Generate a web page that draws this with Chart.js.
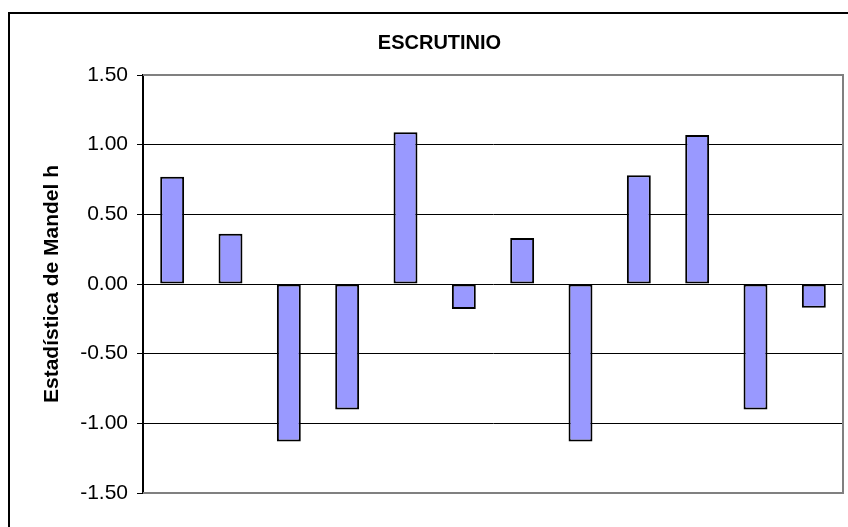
<!DOCTYPE html>
<html>
<head>
<meta charset="utf-8">
<script src="https://cdn.jsdelivr.net/npm/chart.js@4/dist/chart.umd.min.js"></script>
<style>
  html, body { margin: 0; padding: 0; background: #fff; }
  #wrap { width: 848px; height: 527px; }
</style>
</head>
<body>
<div id="wrap"><canvas id="mandelChart" width="848" height="527"></canvas></div>
<script>
// labs 1..12 (no x labels on the original)
const labs = ['1', '2', '3', '4', '5', '6', '7', '8', '9', '10', '11', '12'];
const hValues = [0.77, 0.36, -1.13, -0.90, 1.09, -0.18, 0.33, -1.13, 0.78, 1.07, -0.90, -0.17];
const yTicks = [-1.5, -1.0, -0.5, 0.0, 0.5, 1.0, 1.5];

const frame = {
    id: 'frame',
    beforeDraw(chart) {
        const ctx = chart.ctx;
        ctx.save();
        ctx.fillStyle = '#fff';
        ctx.fillRect(0, 0, chart.width, chart.height);
        ctx.strokeStyle = '#000';
        ctx.lineWidth = 2;
        ctx.strokeRect(9, 13, chart.width + 20, chart.height + 20);
        ctx.restore();
    },
    afterDatasetsDraw(chart) {
        const a = chart.chartArea;
        const ctx = chart.ctx;
        ctx.save();
        ctx.strokeStyle = '#808080';
        ctx.lineWidth = 2;
        ctx.beginPath();
        ctx.moveTo(a.left, a.top);
        ctx.lineTo(a.right, a.top);
        ctx.lineTo(a.right, a.bottom);
        ctx.lineTo(a.left, a.bottom);
        ctx.stroke();
        ctx.restore();
    }
};

document.addEventListener('DOMContentLoaded', function () {
    const ctx = document.getElementById('mandelChart').getContext('2d');
    const chart = new Chart(ctx, {
        type: 'bar',
        data: {
            labels: labs,
            datasets: [{
                label: 'h',
                data: hValues,
                backgroundColor: '#9999FF',
                borderColor: '#000',
                borderWidth: 2,
                borderSkipped: false,
                categoryPercentage: 1,
                barPercentage: 0.41
            }]
        },
        options: {
            responsive: false,
            animation: false,
            layout: { padding: { left: 36, top: 0, right: 5, bottom: 34 } },
            plugins: {
                legend: { display: false },
                tooltip: { enabled: false },
                title: {
                    display: true,
                    text: 'ESCRUTINIO',
                    color: '#000',
                    font: { family: 'Liberation Sans', size: 20, weight: 'bold' },
                    padding: { top: 31, bottom: 20 }
                }
            },
            scales: {
                x: { display: false },
                y: {
                    min: -1.5,
                    max: 1.5,
                    afterBuildTicks(scale) {
                        scale.ticks = yTicks.map(v => ({ value: v }));
                    },
                    afterFit(scale) { scale.width = 107; },
                    border: { color: '#000', width: 2 },
                    grid: {
                        color: '#000',
                        tickColor: '#000',
                        tickLength: 6,
                        lineWidth: 1
                    },
                    ticks: {
                        color: '#000',
                        padding: 9,
                        font: { family: 'Liberation Sans', size: 21 },
                        callback: v => Number(v).toFixed(2)
                    },
                    title: {
                        display: true,
                        text: 'Estadística de Mandel h',
                        color: '#000',
                        font: { family: 'Liberation Sans', size: 21, weight: 'bold' },
                        padding: { top: 4, bottom: 4 }
                    }
                }
            }
        },
        plugins: [frame]
    });
});
</script>
</body>
</html>
